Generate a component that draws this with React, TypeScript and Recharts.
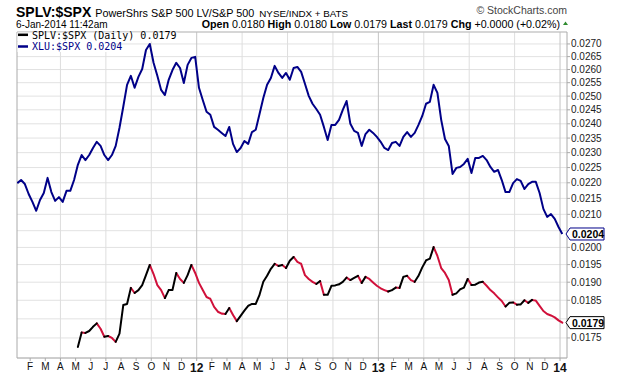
import { LineChart, Line, XAxis, YAxis, CartesianGrid, ReferenceLine, ReferenceDot } from 'recharts'

// sampling: one value every quarter month, months counted from 1-Jan-2011
const STEP = 0.25
const XLU_START = 0.15
const SPLV_START = 4.15

const xluValues = [
  0.02199, 0.02209, 0.02196, 0.02164, 0.02139, 0.02111, 0.02145, 0.02167, 0.02216, 0.0217,
  0.02142, 0.02154, 0.02139, 0.02174, 0.02174, 0.02209, 0.02259, 0.02292, 0.02275, 0.02292,
  0.02316, 0.02337, 0.02323, 0.02292, 0.02275, 0.02292, 0.02323, 0.02386, 0.02461, 0.02542,
  0.02576, 0.02531, 0.02572, 0.02602, 0.02676, 0.027, 0.02626, 0.02576, 0.02523, 0.02504,
  0.02561, 0.02598, 0.02626, 0.02606, 0.02549, 0.02618, 0.02645, 0.02649, 0.02531, 0.02486,
  0.02443, 0.02432, 0.02389, 0.02379, 0.02368, 0.02357, 0.02389, 0.0233, 0.02302, 0.02316,
  0.0234, 0.0233, 0.02371, 0.02379, 0.02435, 0.02493, 0.02542, 0.02568, 0.02614, 0.02587,
  0.02568, 0.02587, 0.02561, 0.02606, 0.0261, 0.02591, 0.02546, 0.02501, 0.02472, 0.02453,
  0.02432, 0.02389, 0.02343, 0.02396, 0.02396, 0.02414, 0.0245, 0.02482, 0.024, 0.02375,
  0.02368, 0.02323, 0.02364, 0.02379, 0.02368, 0.02354, 0.02337, 0.02316, 0.02309, 0.02333,
  0.02337, 0.02323, 0.02354, 0.02371, 0.02354, 0.02368, 0.02396, 0.02428, 0.02472, 0.02479,
  0.02542, 0.02512, 0.02414, 0.02347, 0.02323, 0.02229, 0.02249, 0.02252, 0.02262, 0.02279,
  0.02232, 0.02282, 0.02282, 0.02289, 0.02275, 0.02252, 0.02236, 0.02242, 0.02209, 0.0217,
  0.0217, 0.02199, 0.02212, 0.02206, 0.0218, 0.02196, 0.02203, 0.02203, 0.02167, 0.02117,
  0.02092, 0.02101, 0.02086, 0.02061, 0.0204,
]

const splvValues = [
  0.01727, 0.01764, 0.01763, 0.01768,
  0.01779, 0.01788, 0.01774, 0.01753, 0.01755, 0.0175, 0.0174, 0.01761, 0.01837, 0.0184,
  0.01884, 0.0187, 0.01878, 0.01892, 0.0192, 0.01949, 0.01923, 0.01892, 0.01878, 0.01856,
  0.01878, 0.01878, 0.01926, 0.01909, 0.01898, 0.0192, 0.01949, 0.01926, 0.01898, 0.01878,
  0.01859, 0.01854, 0.01832, 0.01819, 0.01814, 0.01813, 0.01829, 0.0181, 0.01794, 0.01808,
  0.01822, 0.01835, 0.0184, 0.0184, 0.01865, 0.01901, 0.01918, 0.01938, 0.01952, 0.01946,
  0.01949, 0.0194, 0.01961, 0.01972, 0.01958, 0.01952, 0.0192, 0.01909, 0.01901, 0.01895,
  0.01903, 0.01865, 0.01865, 0.0189, 0.01891, 0.01894, 0.01901, 0.01913, 0.01906, 0.01912,
  0.01918, 0.01898, 0.01915, 0.01909, 0.01899, 0.0189, 0.01883, 0.01878, 0.01874, 0.01878,
  0.01885, 0.01884, 0.01915, 0.01918, 0.01906, 0.01901, 0.01918, 0.01942, 0.01962, 0.01967,
  0.02001, 0.01975, 0.0194, 0.01926, 0.01906, 0.01865, 0.01869, 0.0188, 0.01885, 0.01909,
  0.01892, 0.01893, 0.01899, 0.01901, 0.0189, 0.01878, 0.01869, 0.01858, 0.01848, 0.01833,
  0.01843, 0.01844, 0.01838, 0.01839, 0.0185, 0.01843, 0.01851, 0.01849, 0.01835, 0.01821,
  0.01813, 0.01809, 0.01804, 0.01796, 0.0179,
]

const xTickLabels = [
  'F', 'M', 'A', 'M', 'J', 'J', 'A', 'S', 'O', 'N', 'D', '12',
  'F', 'M', 'A', 'M', 'J', 'J', 'A', 'S', 'O', 'N', 'D', '13',
  'F', 'M', 'A', 'M', 'J', 'J', 'A', 'S', 'O', 'N', 'D', '14',
]
const xTicks = xTickLabels.map((_, i) => i + 1)
const quarterLines = [3, 6, 9, 12, 15, 18, 21, 24, 27, 30, 33, 36]

const yTicks = [
  0.0175, 0.018, 0.0185, 0.019, 0.0195, 0.02, 0.0205, 0.021, 0.0215, 0.022,
  0.0225, 0.023, 0.0235, 0.024, 0.0245, 0.025, 0.0255, 0.026, 0.0265, 0.027,
]
const hiddenYLabels = [0.018, 0.0205]

const xDomain = [0.13, 36.46]
const yDomain = [0.01699, 0.02748]

const BLUE = '#000088'
const RED = '#d0103a'
const FONT = 'Arial, "Liberation Sans", sans-serif'
const MONO = '"DejaVu Sans Mono", monospace'

const xluData = xluValues.map((v, i) => ({ m: XLU_START + i * STEP, v }))

// stockcharts colours each step: black when rising, red when falling
function splitByDirection(values: number[], start: number) {
  const up: any[] = []
  const down: any[] = []
  for (let i = 0; i < values.length - 1; i++) {
    const a = { m: start + i * STEP, v: values[i] }
    const b = { m: start + (i + 1) * STEP, v: values[i + 1] }
    const target = values[i + 1] >= values[i] ? up : down
    target.push(a, b, { m: b.m, v: null })
  }
  return { up, down }
}

const splv = splitByDirection(splvValues, SPLV_START)

const MonthTick = ({ x, y, payload }: any) => {
  const label = xTickLabels[payload.value - 1]
  const isYear = /^\d/.test(label)
  return (
    <text
      x={x}
      y={y}
      dy="0.71em"
      textAnchor="middle"
      fontSize={isYear ? 12 : 10}
      fontWeight={isYear ? 'bold' : 'normal'}
      fontFamily={FONT}
      fill="#111"
    >
      {label}
    </text>
  )
}

const PriceTag = ({ cx, cy, color, text }: any) => (
  <g>
    <polygon
      points={`${cx - 1},${cy} ${cx + 3},${cy - 6} ${cx + 37},${cy - 6} ${cx + 37},${cy + 6} ${cx + 3},${cy + 6}`}
      fill="#fff"
      stroke={color}
      strokeWidth={1}
    />
    <text x={cx + 5} y={cy + 4} fontSize={10.5} fontWeight="bold" fontFamily={FONT} fill="#000">
      {text}
    </text>
  </g>
)

export default function App() {
  return (
    <div style={{ position: 'absolute', left: 0, top: 0, width: 620, height: 376, background: '#fff' }}>
      <LineChart width={620} height={376} margin={{ top: 32, right: 0, bottom: 0, left: 17 }}>
        <CartesianGrid vertical={false} stroke="#e2e2e2" />
        <XAxis
          dataKey="m"
          type="number"
          domain={xDomain}
          allowDataOverflow
          ticks={xTicks}
          interval={0}
          height={18}
          tick={<MonthTick />}
          tickSize={3}
          tickMargin={2}
          stroke="#aaa"
        />
        <YAxis
          yAxisId={0}
          orientation="right"
          type="number"
          scale="log"
          domain={yDomain}
          allowDataOverflow
          ticks={yTicks}
          interval={0}
          width={53}
          tickSize={3}
          tickMargin={1}
          stroke="#aaa"
          tick={{ fontSize: 10, fontFamily: FONT, fill: '#222' }}
          tickFormatter={(v: number) => (hiddenYLabels.includes(v) ? '' : v.toFixed(4))}
        />
        {quarterLines.map((q) => (
          <ReferenceLine key={q} x={q} stroke={q % 12 === 0 ? '#c4c4c4' : '#dedede'} />
        ))}
        <ReferenceLine x={xDomain[0]} stroke="#aaa" />
        <ReferenceLine y={yDomain[1]} stroke="#bbb" />
        <Line
          data={xluData}
          dataKey="v"
          stroke={BLUE}
          strokeWidth={2}
          dot={false}
          isAnimationActive={false}
          strokeLinejoin="round"
        />
        <Line
          data={splv.down}
          dataKey="v"
          stroke={RED}
          strokeWidth={2}
          dot={false}
          connectNulls={false}
          isAnimationActive={false}
          strokeLinecap="round"
        />
        <Line
          data={splv.up}
          dataKey="v"
          stroke="#000"
          strokeWidth={2}
          dot={false}
          connectNulls={false}
          isAnimationActive={false}
          strokeLinecap="round"
        />
        <ReferenceDot
          x={xDomain[1]}
          y={xluValues[xluValues.length - 1]}
          ifOverflow="visible"
          shape={(p: any) => <PriceTag {...p} color={BLUE} text="0.0204" />}
        />
        <ReferenceDot
          x={xDomain[1]}
          y={splvValues[splvValues.length - 1]}
          ifOverflow="visible"
          shape={(p: any) => <PriceTag {...p} color="#000" text="0.0179" />}
        />
      </LineChart>

      <svg width={620} height={376} style={{ position: 'absolute', left: 0, top: 0, pointerEvents: 'none' }}>
        <text x={16} y={16.5} fontFamily={FONT} fill="#000">
          <tspan fontSize={14} fontWeight="bold">SPLV:$SPX</tspan>
          <tspan dx={4} fontSize={10.8}>PowerShrs S&amp;P 500 LV/S&amp;P 500</tspan>
          <tspan dx={5} fontSize={9.8}>NYSE/INDX + BATS</tspan>
        </text>
        <text x={567} y={14} textAnchor="end" fontFamily={FONT} fontSize={10.5} fill="#444">© StockCharts.com</text>
        <text x={16} y={27.5} fontFamily={FONT} fontSize={10} fill="#000">6-Jan-2014 11:42am</text>
        <text x={560} y={27.5} textAnchor="end" fontFamily={FONT} fontSize={10.7} fill="#000">
          <tspan fontWeight="bold">Open</tspan> 0.0180 <tspan fontWeight="bold">High</tspan> 0.0180{' '}
          <tspan fontWeight="bold">Low</tspan> 0.0179 <tspan fontWeight="bold">Last</tspan> 0.0179{' '}
          <tspan fontWeight="bold">Chg</tspan> +0.0000 (+0.02%)
        </text>
        <polygon points="563,25 568,25 565.5,21.5" fill="#2e8b2e" />

        <rect x={17.5} y={32.5} width={160} height={9} fill="#fff" />
        <rect x={17.5} y={42} width={92} height={10} fill="#fff" />
        <line x1={18} x2={28} y1={34.8} y2={34.8} stroke="#000" strokeWidth={2.5} />
        <text x={32} y={39} fontFamily={MONO} fontSize={10} fill="#000">
          SPLV:$SPX (Daily) 0.0179
        </text>
        <line x1={18} x2={28} y1={46.5} y2={46.5} stroke={BLUE} strokeWidth={2.5} />
        <text x={32} y={50} fontFamily={MONO} fontSize={10} fill={BLUE}>
          XLU:$SPX 0.0204
        </text>
      </svg>
    </div>
  )
}
